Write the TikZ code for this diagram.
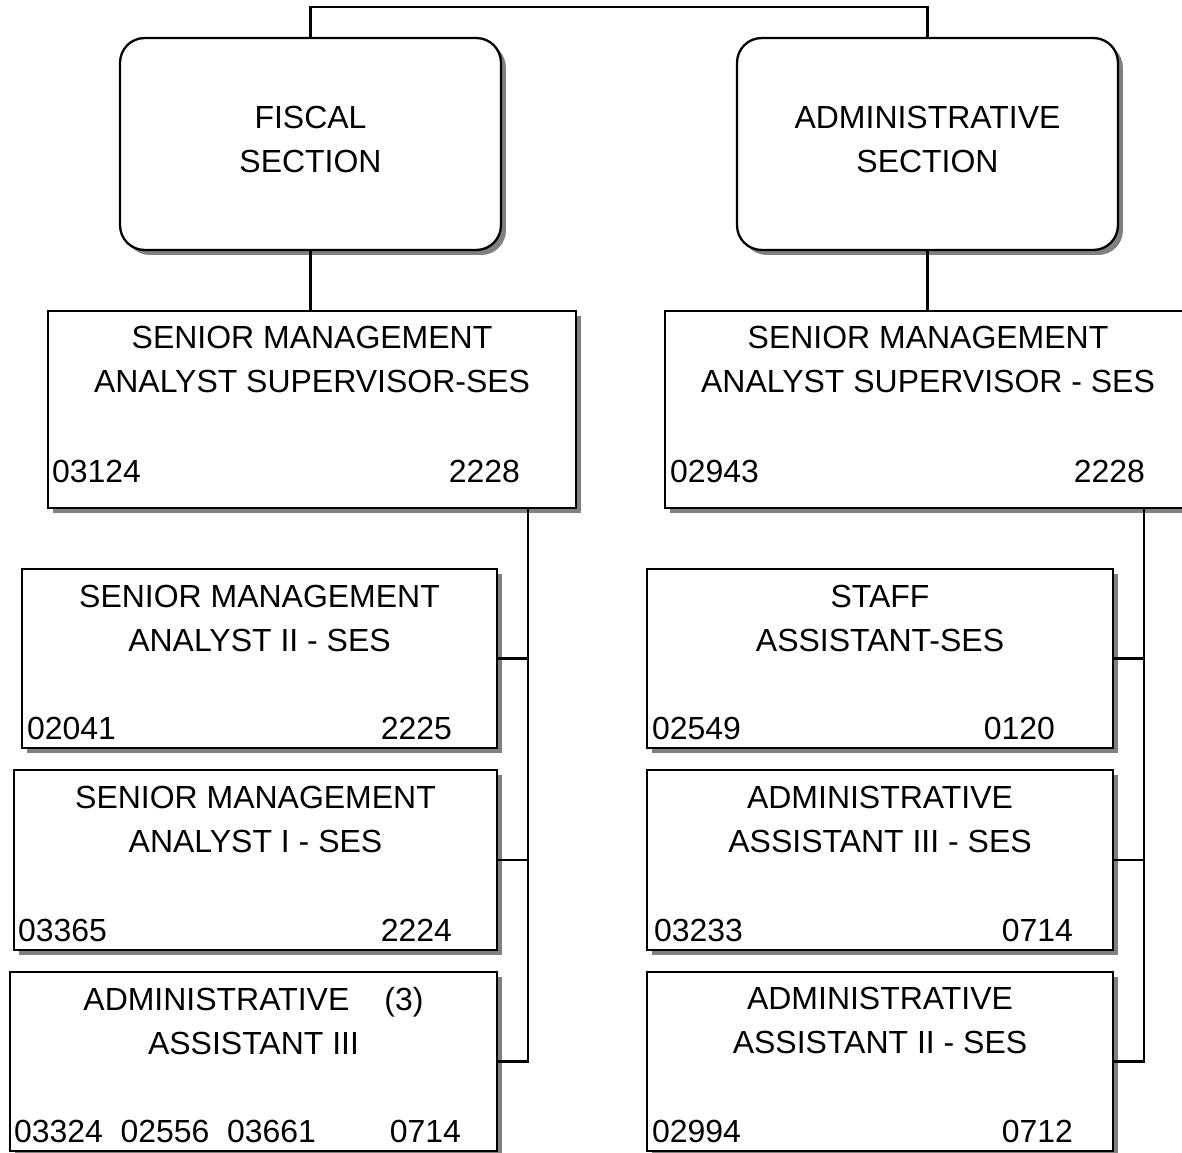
\documentclass[tikz,border=0pt]{standalone}
\usepackage{fontspec}
\setmainfont{Liberation Sans}
\usetikzlibrary{calc, shadows}

\begin{document}
\begin{tikzpicture}[
  x=0.02cm, y=-0.02cm,
  line width=1.3pt,
  boxshadow/.style={general shadow={fill=black!50, draw=none,
               shadow xshift=0.1cm, shadow yshift=-0.1cm}},
  sect/.style={rectangle, rounded corners=14pt, draw, fill=white, align=center,
               minimum width=7.62cm, minimum height=4.24cm, inner sep=0pt,
               font=\fontsize{18.2}{25}\selectfont, boxshadow},
  post/.style={rectangle, draw, fill=white, minimum height=3.58cm,
               inner sep=0pt, boxshadow},
  ttl/.style={align=center, inner sep=0pt, font=\fontsize{18.2}{25}\selectfont},
  num/.style={inner sep=0pt, font=\fontsize{18.2}{25}\selectfont},
]
\useasboundingbox (0,0) rectangle (1182,1152);

% sections
\node[sect] (fiscal) at (310.5,144) {FISCAL\\SECTION\\[-20pt]};
\node[sect] (admin)  at (927.5,144) {ADMINISTRATIVE\\SECTION\\[-20pt]};

% position boxes
\node[post, minimum width=10.56cm, minimum height=3.94cm] (smaF) at (312,409.5) {};
\node[post, minimum width=10.52cm, minimum height=3.94cm] (smaA) at (928,409.5) {};
\node[post, minimum width=9.5cm] (sma2) at (259.5,658.5) {};
\node[post, minimum width=9.66cm, minimum height=3.6cm] (sma1) at (255.5,860) {};
\node[post, minimum width=9.74cm] (aa3) at (253.5,1061.5) {};
\node[post, minimum width=9.32cm] (staff) at (880,658.5) {};
\node[post, minimum width=9.32cm, minimum height=3.6cm] (aa3s) at (880,860) {};
\node[post, minimum width=9.32cm] (aa2s) at (880,1061.5) {};

% titles
\node[ttl] at ($(smaF.north)+(0,50)$) {SENIOR MANAGEMENT\\ANALYST SUPERVISOR-SES};
\node[ttl] at ($(smaA.north)+(0,50)$) {SENIOR MANAGEMENT\\ANALYST SUPERVISOR - SES};
\node[ttl] at ($(sma2.north)+(0,51)$) {SENIOR MANAGEMENT\\ANALYST II - SES};
\node[ttl] at ($(sma1.north)+(0,51)$) {SENIOR MANAGEMENT\\ANALYST I - SES};
\node[ttl] at ($(aa3.north)+(0,50)$) {ADMINISTRATIVE\hspace{1.1em}(3)\\ASSISTANT III};
\node[ttl] at ($(staff.north)+(0,51)$) {STAFF\\ASSISTANT-SES};
\node[ttl] at ($(aa3s.north)+(0,51)$) {ADMINISTRATIVE\\ASSISTANT III - SES};
\node[ttl] at ($(aa2s.north)+(0,50)$) {ADMINISTRATIVE\\ASSISTANT II - SES};

% position and class numbers
\node[num, anchor=west] at ($(smaF.south west)+(4,-38)$) {03124};
\node[num, anchor=east] at ($(smaF.south east)+(-56,-38)$) {2228};
\node[num, anchor=west] at ($(smaA.south west)+(5,-38)$) {02943};
\node[num, anchor=east] at ($(smaA.south east)+(-46,-38)$) {2228};
\node[num, anchor=west] at ($(sma2.south west)+(5,-21)$) {02041};
\node[num, anchor=east] at ($(sma2.south east)+(-45,-21)$) {2225};
\node[num, anchor=west] at ($(sma1.south west)+(4,-21)$) {03365};
\node[num, anchor=east] at ($(sma1.south east)+(-45,-21)$) {2224};
\node[num, anchor=west] at ($(aa3.south west)+(4,-21)$) {03324\hspace{0.55em}02556\hspace{0.55em}03661};
\node[num, anchor=east] at ($(aa3.south east)+(-36,-21)$) {0714};
\node[num, anchor=west] at ($(staff.south west)+(5,-21)$) {02549};
\node[num, anchor=east] at ($(staff.south east)+(-58,-21)$) {0120};
\node[num, anchor=west] at ($(aa3s.south west)+(7,-21)$) {03233};
\node[num, anchor=east] at ($(aa3s.south east)+(-40,-21)$) {0714};
\node[num, anchor=west] at ($(aa2s.south west)+(5,-21)$) {02994};
\node[num, anchor=east] at ($(aa2s.south east)+(-40,-21)$) {0712};

% connectors
\draw (fiscal.north) -- ++(0,-30) -| (admin.north);
\draw (fiscal.south) -- (fiscal.south |- smaF.north);
\draw (admin.south) -- (admin.south |- smaA.north);
\coordinate (busF) at ($(smaF.south east)+(-49,0)$);
\coordinate (busA) at ($(smaA.south west)+(480,0)$);
\draw (busF) |- (aa3.east);
\draw (sma2.east) -- (sma2.east -| busF);
\draw (sma1.east) -- (sma1.east -| busF);
\draw (busA) |- (aa2s.east);
\draw (staff.east) -- (staff.east -| busA);
\draw (aa3s.east) -- (aa3s.east -| busA);
\end{tikzpicture}
\end{document}
